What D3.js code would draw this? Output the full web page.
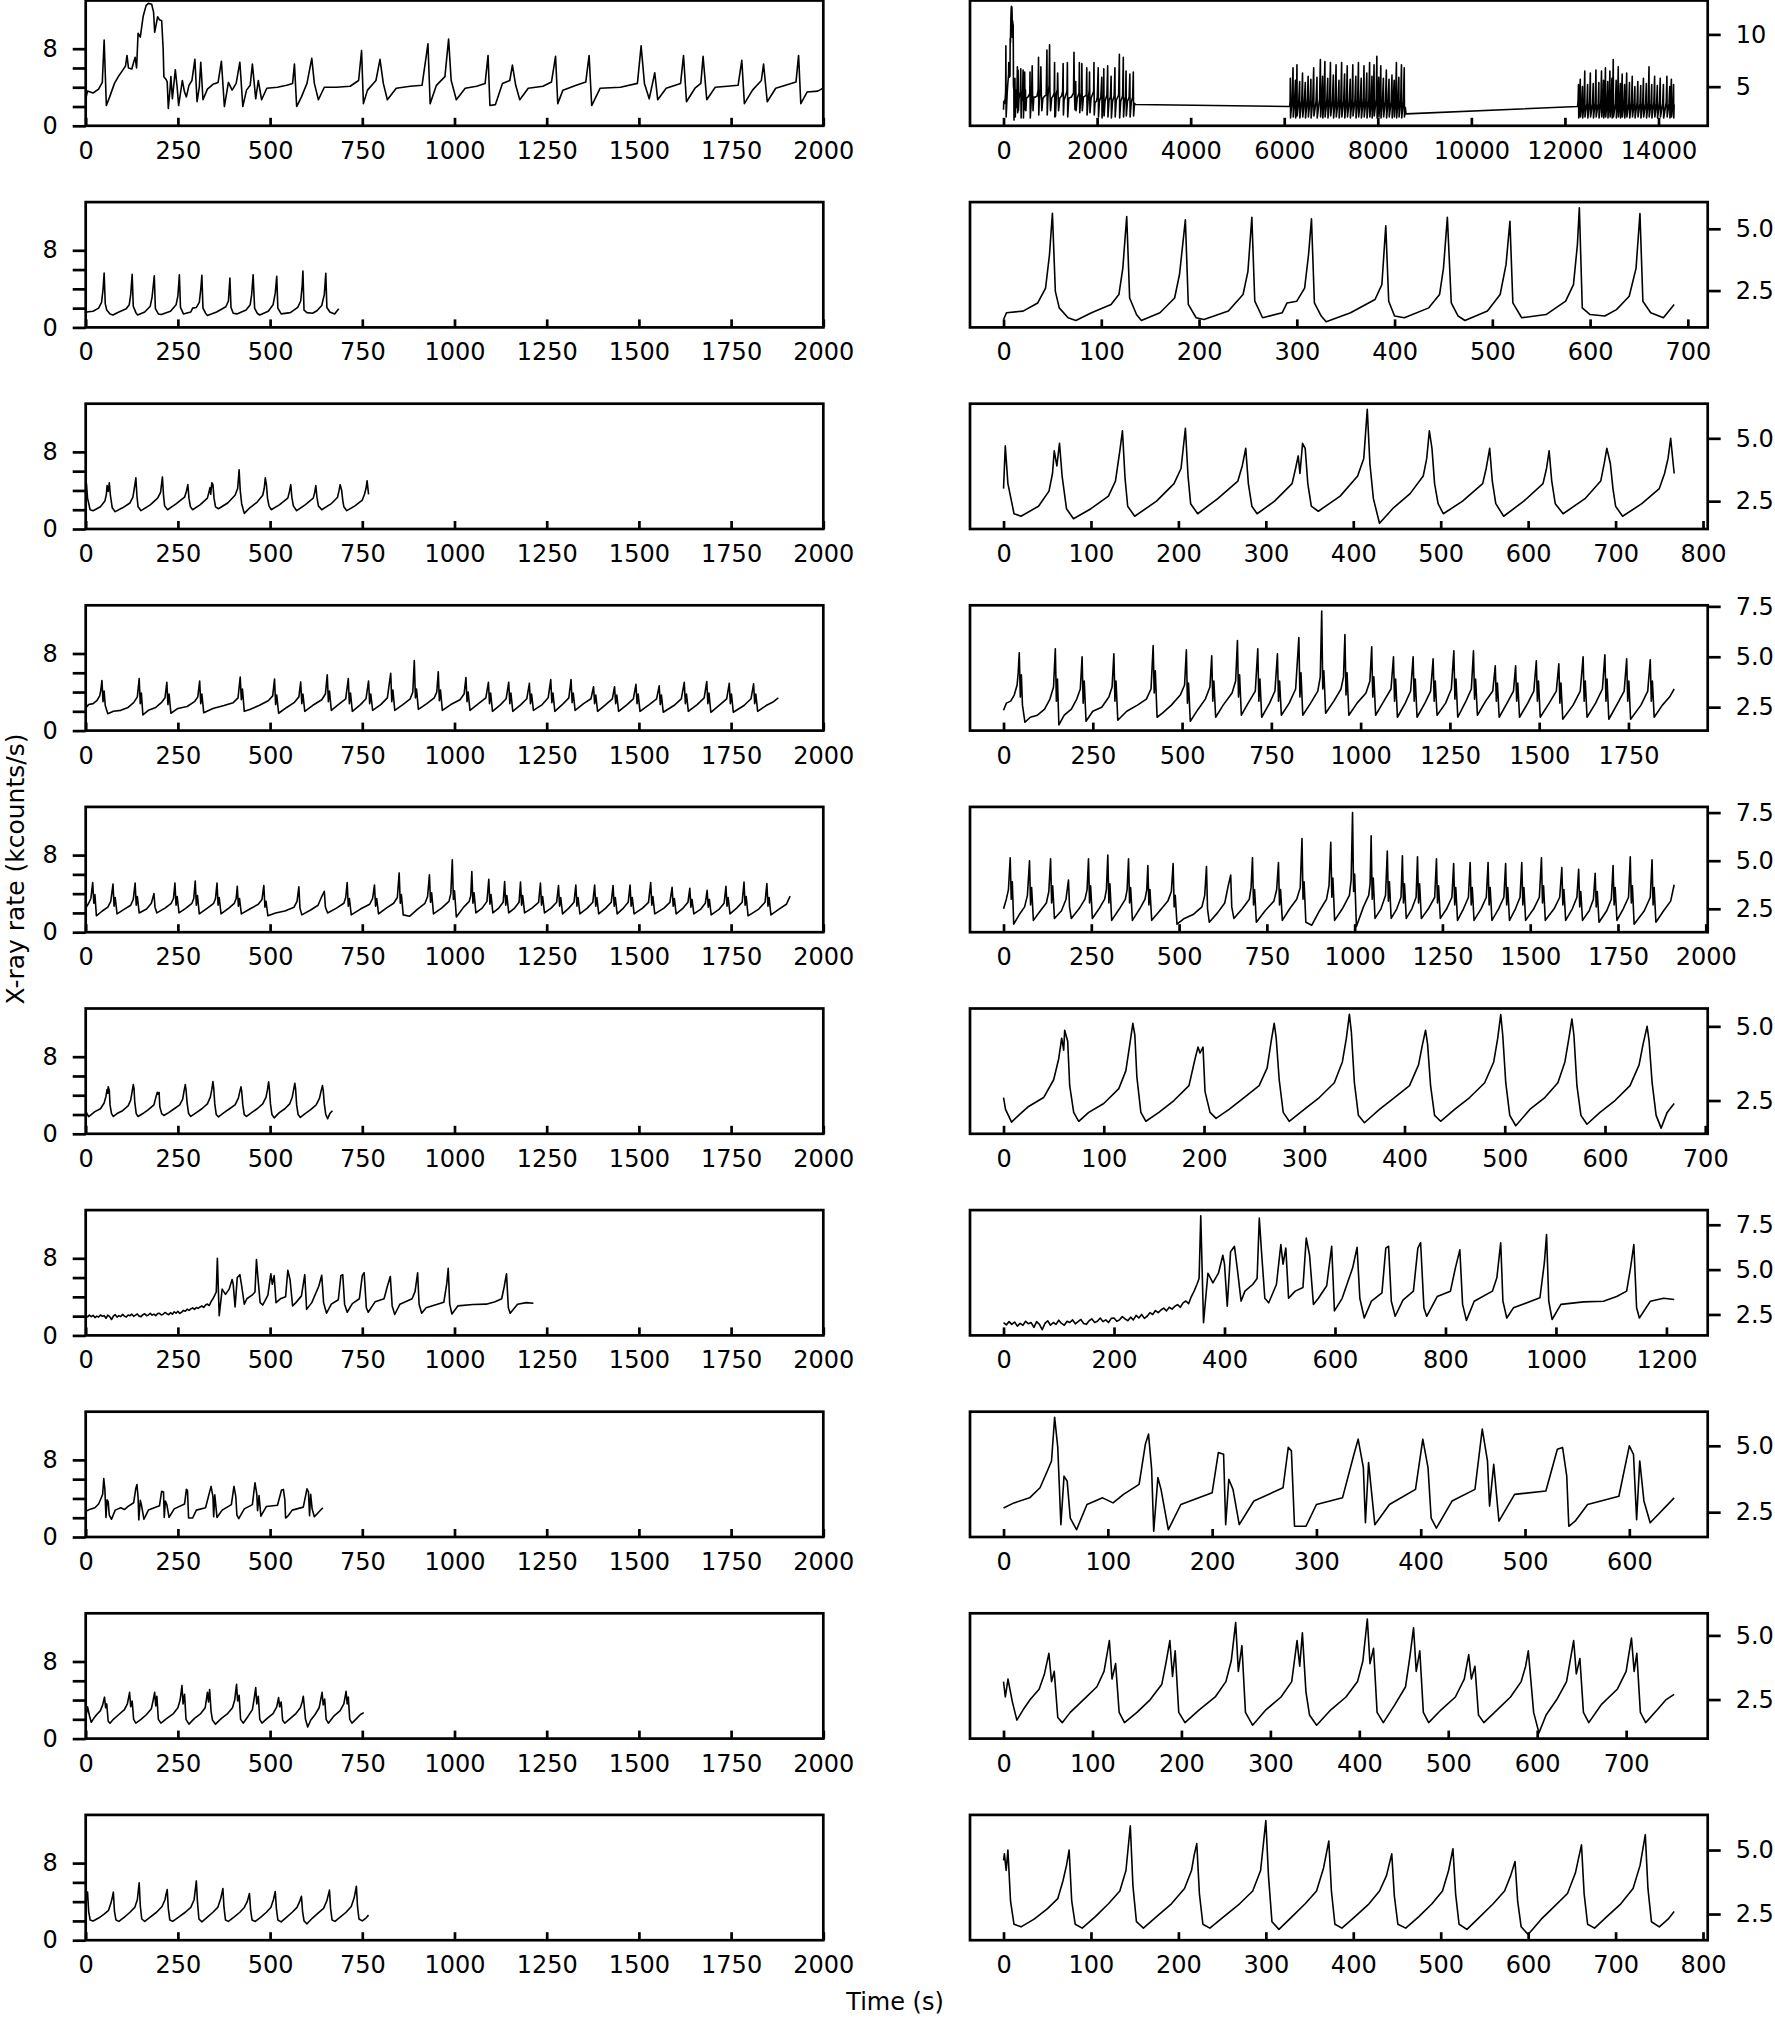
<!DOCTYPE html>
<html><head><meta charset="utf-8">
<script src="https://cdn.jsdelivr.net/npm/d3@7"></script>
<style>html,body{margin:0;padding:0;background:#fff;}</style>
</head><body>
<script>
// ---------------- DATA (time s, rate kcounts/s) ----------------
const r1 = [[0,2.8],[5,3.6],[20,3.4],[35,3.8],[45,4.5],[50,8.9],[56,2.1],[65,3.0],[78,4.4],[90,5.2],[101,5.8],[108,6.2],[112,7.3],[116,6.0],[125,5.9],[130,6.6],[134,7.1],[138,6.0],[142,9.6],[148,9.2],[156,11.4],[164,12.5],[170,12.7],[179,12.6],[184,11.8],[187,9.7],[195,11.3],[200,11.0],[206,10.9],[210,8.0],[212,5.1],[218,4.8],[221,4.55],[224,1.8],[228,3.5],[231,5.1],[235,2.8],[243,5.8],[248,4.0],[252,2.1],[262,4.7],[268,3.5],[273,3.0],[280,4.2],[288,4.7],[296,6.9],[302,2.5],[308,4.0],[312,6.6],[318,2.7],[330,3.8],[345,4.3],[359,4.5],[368,6.7],[376,2.0],[387,4.5],[397,3.7],[408,4.4],[418,6.6],[426,2.0],[436,3.7],[446,4.2],[452,6.4],[461,2.8],[468,4.7],[477,2.7],[491,3.9],[520,4.0],[545,4.2],[561,4.4],[566,6.4],[572,2.0],[585,3.0],[600,4.4],[613,7.0],[620,4.4],[631,2.7],[647,4.0],[680,4.0],[717,4.1],[740,4.7],[748,7.8],[753,2.3],[764,3.7],[787,4.7],[798,6.9],[807,4.4],[818,2.7],[842,3.9],[880,4.1],[912,4.2],[928,8.5],[934,2.3],[951,4.2],[974,5.1],[984,9.0],[991,4.7],[1005,2.7],[1029,3.9],[1060,4.1],[1083,4.4],[1091,7.3],[1096,2.1],[1111,2.2],[1130,4.4],[1150,4.7],[1157,6.3],[1166,4.2],[1177,2.7],[1200,3.9],[1240,4.1],[1263,4.55],[1274,7.2],[1280,2.3],[1294,3.7],[1330,4.2],[1356,4.55],[1365,7.3],[1372,2.1],[1395,3.9],[1450,4.0],[1496,4.4],[1506,8.3],[1515,4.4],[1528,2.8],[1543,5.5],[1551,2.7],[1574,3.9],[1613,4.4],[1621,7.3],[1629,2.5],[1652,3.9],[1668,4.4],[1674,7.2],[1684,2.7],[1707,4.0],[1740,4.1],[1769,4.2],[1779,6.8],[1786,2.3],[1808,3.7],[1832,4.7],[1838,6.4],[1848,2.5],[1871,3.9],[1926,4.55],[1933,7.3],[1939,2.3],[1956,3.5],[1985,3.6],
[2004,4.0],[2024,6.8],[2030,2.1],[2050,3.6],[2080,4.0],[2100,5.9],[2106,2.0],[2125,3.5],[2138,4.1],[2143,6.7],[2149,2.2],[2170,3.6],[2210,4.2],[2226,7.0],[2232,2.1],[2255,3.7],[2285,4.0],[2300,6.0],[2306,2.0],[2330,3.6],[2365,4.1],[2381,6.8],[2387,2.1],[2410,3.7],[2460,4.2],[2476,8.1],[2482,2.0],[2505,3.6],[2545,4.1],[2560,7.8],[2566,2.1],[2590,3.8],[2610,4.0],[2619,6.5],[2625,2.2],[2650,3.6],[2685,4.0],[2700,6.2],[2706,2.1],[2730,3.5],[2760,4.0],[2774,6.4],[2780,2.2],[2800,3.4],[2820,3.3],
[6116,3.1],[6125,3.6],[6130,5.8],[6135,2.0],[6165,3.6],[6188,6.8],[6193,2.1],[6220,3.5],[6240,5.6],[6245,2.0],[6262,3.7],[6272,7.1],[6277,2.2],[6310,3.6],[6330,5.5],[6335,2.0],[6375,3.7],[6391,6.3],[6396,2.1],[6430,3.6],[6450,5.4],[6455,2.0],[6495,3.8],[6511,6.0],[6516,2.1],[6550,3.6],[6570,5.7],[6575,2.0],[6610,3.7],[6630,6.8],[6635,2.2],[6680,3.6],[6700,5.9],[6705,2.0],[6755,3.8],[6773,7.6],[6778,2.1],[6800,3.6],[6820,6.0],[6825,2.0],[6850,3.7],[6869,7.4],[6874,2.1],[6910,3.6],[6930,5.8],[6935,2.0],[6970,3.8],[6988,7.3],[6993,2.2],[7030,3.6],[7050,6.1],[7055,2.0],[7090,3.7],[7108,7.1],[7113,2.1],[7150,3.6],[7170,5.6],[7175,2.0],[7210,3.8],[7227,7.3],[7232,2.1],[7270,3.6],[7290,6.2],[7295,2.0],[7330,3.7],[7347,7.0],[7352,2.1],[7390,3.6],[7410,5.7],[7415,2.0],[7450,3.8],[7466,7.1],[7471,2.2],[7510,3.6],[7530,6.0],[7535,2.0],[7570,3.7],[7586,7.3],[7591,2.1],[7625,3.6],[7645,5.8],[7650,2.0],[7690,3.8],[7705,7.0],[7710,2.1],[7745,3.6],[7765,6.3],[7770,2.0],[7808,3.7],[7825,7.3],[7830,2.1],[7858,3.6],[7875,6.0],[7880,2.0],[7905,3.7],[7920,7.1],[7925,2.2],[7965,3.8],[7980,7.9],[7985,2.0],[8005,3.6],[8020,5.9],[8025,2.1],[8048,3.7],[8064,7.0],[8069,2.0],[8100,3.6],[8120,5.8],[8125,2.1],[8165,3.7],[8183,6.6],[8188,2.0],[8220,3.6],[8240,5.7],[8245,2.1],[8285,3.6],[8303,6.1],[8308,2.0],[8330,3.7],[8350,5.6],[8355,2.1],[8380,3.7],[8398,7.3],[8403,2.0],[8430,3.6],[8450,5.9],[8455,2.1],[8490,3.7],[8506,7.1],[8511,2.0],[8548,3.6],[8565,6.8],[8570,2.1],[8590,3.0],[8601,2.4],
[12268,3.1],[12280,3.5],[12290,5.2],[12295,2.0],[12315,3.4],[12328,5.7],[12333,2.1],[12360,3.4],[12375,5.0],[12380,2.0],[12410,3.5],[12424,6.5],[12429,2.1],[12470,3.4],[12485,5.2],[12490,2.0],[12528,3.5],[12543,6.3],[12548,2.1],[12590,3.4],[12605,5.3],[12610,2.0],[12648,3.5],[12663,6.6],[12668,2.1],[12710,3.4],[12725,5.4],[12730,2.0],[12767,3.5],[12782,6.5],[12787,2.1],[12810,3.4],[12825,5.6],[12830,2.0],[12851,3.5],[12866,6.8],[12871,2.1],[12900,3.4],[12915,5.5],[12920,2.0],[12946,3.5],[12961,6.5],[12966,2.1],[12990,3.4],[13005,5.8],[13010,2.0],[13018,3.6],[13033,7.6],[13038,2.1],[13080,3.4],[13095,5.6],[13100,2.0],[13125,3.5],[13140,6.9],[13145,2.1],[13170,3.4],[13185,5.3],[13190,2.0],[13209,3.5],[13224,6.2],[13229,2.1],[13260,3.4],[13275,5.2],[13280,2.0],[13305,3.5],[13320,6.3],[13325,2.1],[13365,3.4],[13380,5.4],[13385,2.0],[13424,3.5],[13439,6.0],[13444,2.1],[13480,3.4],[13495,5.0],[13500,2.0],[13543,3.5],[13558,5.5],[13563,2.1],[13605,3.4],[13620,5.1],[13625,2.0],[13663,3.5],[13678,5.8],[13683,2.1],[13725,3.4],[13740,5.3],[13745,2.0],[13782,3.5],[13797,6.9],[13802,2.1],[13840,3.4],[13855,5.2],[13860,2.0],[13902,3.5],[13917,6.0],[13922,2.1],[13960,3.4],[13975,5.1],[13980,2.0],[14022,3.5],[14037,5.8],[14042,2.1],[14090,3.4],[14105,5.2],[14110,2.0],[14165,3.5],[14180,6.0],[14185,2.1],[14225,3.4],[14240,5.0],[14245,2.0],[14260,3.5],[14275,5.7],[14280,2.1],[14310,3.4],[14322,5.2],[14327,2.0],[14335,3.3]];

const r2 = [[0,1.33],[3,1.6],[20,1.67],[35,2.0],[43,2.6],[47,3.95],[50,5.63],[53,2.47],[57,1.8],[66,1.4],[74,1.29],[90,1.6],[110,1.94],[118,2.34],[122,3.4],[126,5.5],[129,2.2],[136,1.53],[141,1.29],[160,1.6],[175,2.2],[180,3.15],[186,5.36],[189,1.94],[197,1.4],[205,1.33],[230,1.67],[245,2.34],[250,3.28],[254,5.47],[257,2.07],[265,1.4],[285,1.6],[290,2.0],[300,2.07],[308,2.6],[312,3.95],[315,5.4],[318,2.0],[325,1.47],[330,1.24],[355,1.6],[380,2.14],[387,2.74],[391,5.12],[394,2.07],[400,1.47],[410,1.4],[435,1.8],[446,2.34],[450,3.4],[454,5.47],[458,2.0],[465,1.47],[472,1.29],[495,1.67],[508,2.34],[514,3.55],[518,5.3],[521,2.0],[530,1.4],[555,1.53],[575,2.07],[583,2.74],[587,4.35],[589,5.85],[592,1.8],[600,1.53],[615,1.47],[627,1.73],[640,2.27],[647,3.4],[651,5.62],[654,2.07],[662,1.6],[675,1.4],[686,1.94]];

const r3 = [[0,3.0],[2,4.7],[5,3.2],[12,2.0],[20,1.9],[40,2.3],[52,2.9],[56,3.6],[58,4.5],[61,3.9],[64,4.8],[67,3.5],[72,2.2],[80,1.8],[100,2.2],[120,2.7],[128,3.3],[133,4.5],[136,5.3],[139,3.4],[142,2.3],[150,1.9],[175,2.5],[195,3.2],[203,3.8],[208,5.4],[211,3.5],[214,2.4],[222,2.0],[245,2.6],[268,3.3],[273,3.9],[277,4.6],[280,3.2],[284,2.3],[290,2.0],[310,2.5],[330,3.2],[334,3.8],[337,4.3],[339,3.6],[342,4.8],[345,4.6],[348,3.2],[352,2.3],[360,2.1],[385,2.7],[405,3.5],[412,4.2],[416,6.15],[419,4.0],[423,2.6],[430,1.62],[445,2.2],[465,2.8],[480,3.5],[484,4.2],[487,5.3],[490,4.6],[493,3.2],[497,2.4],[503,2.0],[525,2.5],[548,3.2],[552,3.8],[556,4.6],[559,3.3],[563,2.4],[572,1.9],[595,2.5],[617,3.2],[621,3.8],[624,4.5],[627,3.3],[631,2.4],[640,2.0],[665,2.6],[683,3.3],[687,4.0],[690,4.6],[694,4.0],[697,3.0],[700,2.3],[708,1.9],[730,2.4],[750,3.0],[756,3.6],[760,4.2],[763,5.0],[767,3.6]];

const r4 = [[0,2.35],[8,2.7],[20,2.8],[30,3.1],[38,3.6],[41,4.2],[44,5.2],[47,3.0],[50,4.1],[53,2.6],[60,1.75],[75,2.0],[95,2.1],[115,2.4],[130,2.9],[140,3.5],[145,5.4],[148,2.8],[151,3.9],[155,1.62],[170,2.1],[190,2.4],[205,2.9],[215,3.4],[220,5.0],[223,2.7],[226,3.8],[231,1.8],[250,2.3],[275,2.5],[295,3.0],[304,3.5],[309,5.15],[312,2.8],[315,3.8],[320,1.85],[345,2.3],[375,2.6],[400,2.9],[413,3.4],[419,5.55],[422,3.2],[425,4.3],[430,2.0],[445,2.2],[470,2.6],[495,3.1],[507,3.6],[512,5.35],[515,2.7],[518,3.7],[523,1.8],[545,2.4],[565,2.9],[578,3.5],[583,5.05],[586,2.8],[589,3.8],[594,2.0],[615,2.6],[640,3.2],[650,3.8],[655,5.8],[658,3.0],[661,4.1],[666,2.1],[685,2.7],[705,3.3],[712,5.4],[715,2.8],[718,3.9],[723,2.0],[745,2.7],[760,3.3],[767,5.15],[770,2.8],[773,3.8],[778,2.1],[800,2.7],[818,3.4],[827,5.95],[830,3.0],[833,4.2],[838,2.1],[860,2.7],[880,3.3],[887,4.0],[891,7.27],[894,3.4],[897,4.3],[902,2.2],[925,2.8],[945,3.4],[952,4.0],[956,6.1],[959,3.1],[962,4.2],[967,2.1],[990,2.7],[1015,3.2],[1026,3.8],[1031,5.5],[1034,3.0],[1037,4.0],[1042,2.1],[1065,2.8],[1085,3.4],[1092,5.0],[1095,2.8],[1098,3.9],[1103,2.0],[1125,2.7],[1140,3.3],[1147,5.0],[1150,2.8],[1153,3.9],[1158,2.0],[1180,2.7],[1196,3.3],[1203,4.9],[1206,2.8],[1209,3.8],[1214,2.1],[1238,2.7],[1254,3.4],[1261,5.3],[1264,2.9],[1267,3.9],[1272,2.0],[1295,2.8],[1310,3.4],[1316,5.3],[1319,2.9],[1322,3.9],[1327,2.1],[1350,2.8],[1370,3.3],[1377,4.55],[1380,2.8],[1383,3.7],[1388,2.0],[1410,2.7],[1428,3.3],[1434,4.55],[1437,2.8],[1440,3.7],[1445,2.0],[1468,2.7],[1485,3.3],[1492,4.8],[1495,2.8],[1498,3.8],[1503,2.0],[1528,2.7],[1548,3.3],[1555,4.65],[1558,2.7],[1561,3.7],[1566,1.9],[1595,2.6],[1615,3.3],[1623,5.0],[1626,2.8],[1629,3.8],[1634,2.0],[1658,2.7],[1677,3.4],[1684,5.1],[1687,2.8],[1690,3.9],[1695,1.9],[1720,2.7],[1738,3.3],[1745,4.9],[1748,2.8],[1751,3.8],[1756,1.9],[1785,2.6],[1804,3.3],[1811,4.85],[1814,2.8],[1817,3.8],[1822,2.0],[1845,2.6],[1865,3.0],[1878,3.4]];

const r5 = [[0,2.5],[8,3.0],[14,3.5],[19,5.15],[22,3.0],[25,3.9],[29,1.7],[45,2.2],[60,2.6],[68,3.2],[74,5.0],[77,2.7],[80,3.6],[85,1.9],[105,2.4],[122,2.8],[129,3.4],[134,5.1],[137,2.8],[140,3.7],[145,2.0],[165,2.4],[178,3.0],[185,4.0],[188,2.6],[193,2.0],[215,2.5],[232,3.0],[238,3.5],[242,5.1],[245,2.8],[248,3.7],[253,2.0],[272,2.5],[288,3.0],[293,3.5],[297,5.3],[300,2.8],[303,3.8],[308,1.9],[330,2.5],[347,3.0],[352,3.5],[356,5.1],[359,2.8],[362,3.6],[367,1.9],[388,2.5],[403,3.0],[408,3.5],[411,4.75],[414,2.7],[417,3.5],[422,1.9],[445,2.4],[468,2.9],[478,3.4],[483,4.85],[486,2.6],[489,3.2],[494,1.7],[515,2.0],[540,2.2],[565,2.6],[573,3.2],[578,4.7],[581,2.5],[586,1.8],[610,2.3],[630,2.8],[640,3.7],[647,4.25],[650,2.6],[656,2.0],[680,2.5],[700,3.0],[705,3.6],[709,5.15],[712,2.7],[715,3.5],[720,1.8],[745,2.4],[770,2.9],[778,3.5],[783,4.9],[786,2.7],[789,3.5],[794,1.9],[815,2.5],[835,3.0],[845,3.6],[850,6.15],[853,3.0],[856,3.9],[861,1.8],[878,1.65],[900,2.4],[920,3.0],[927,3.7],[932,5.95],[935,3.1],[938,4.1],[943,1.9],[965,2.5],[985,3.2],[990,4.0],[994,7.5],[997,3.4],[1000,4.3],[1005,1.58],[1025,2.6],[1040,3.2],[1044,3.8],[1047,6.3],[1050,3.0],[1053,4.1],[1058,2.0],[1075,2.5],[1088,3.2],[1093,5.5],[1096,2.9],[1099,3.9],[1104,2.0],[1120,2.5],[1132,3.1],[1136,5.25],[1139,2.8],[1142,3.8],[1147,2.0],[1163,2.5],[1175,3.1],[1179,5.2],[1182,2.8],[1185,3.8],[1190,2.0],[1210,2.5],[1228,3.1],[1233,5.1],[1236,2.8],[1239,3.7],[1244,2.0],[1262,2.5],[1277,3.1],[1282,4.85],[1285,2.7],[1288,3.6],[1293,1.9],[1310,2.5],[1324,3.1],[1329,4.9],[1332,2.7],[1335,3.6],[1340,1.9],[1360,2.5],[1375,3.1],[1380,4.9],[1383,2.7],[1386,3.6],[1391,1.9],[1410,2.5],[1425,3.1],[1430,4.85],[1433,2.7],[1436,3.6],[1441,1.9],[1458,2.5],[1471,3.1],[1476,4.9],[1479,2.7],[1482,3.6],[1487,1.9],[1510,2.5],[1526,3.1],[1532,5.15],[1535,2.8],[1538,3.7],[1543,1.9],[1568,2.5],[1584,3.1],[1590,4.65],[1593,2.7],[1596,3.5],[1601,1.9],[1620,2.5],[1633,3.1],[1638,4.55],[1641,2.6],[1644,3.4],[1649,1.9],[1668,2.4],[1680,3.0],[1685,4.35],[1688,2.6],[1691,3.4],[1696,1.8],[1718,2.4],[1731,3.0],[1736,4.75],[1739,2.7],[1742,3.6],[1747,1.9],[1765,2.5],[1780,3.1],[1785,5.2],[1788,2.8],[1791,3.7],[1796,1.7],[1825,2.4],[1842,3.1],[1847,5.05],[1850,2.7],[1853,3.6],[1858,1.8],[1880,2.4],[1900,2.9],[1910,3.75]];

const r6 = [[0,2.6],[2,2.2],[8,1.77],[15,2.0],[25,2.3],[40,2.6],[50,3.2],[55,3.9],[58,4.6],[60,4.2],[61,4.87],[64,4.5],[66,3.0],[70,2.1],[75,1.8],[85,2.1],[100,2.4],[115,2.9],[122,3.5],[126,4.4],[129,5.1],[131,4.7],[133,3.3],[137,2.1],[142,1.8],[155,2.1],[170,2.5],[185,3.0],[191,3.9],[194,4.3],[196,4.1],[199,4.3],[201,2.8],[206,2.1],[212,1.9],[225,2.2],[240,2.6],[255,3.0],[263,3.6],[267,4.5],[270,5.1],[272,4.6],[275,3.2],[279,2.1],[285,1.8],[300,2.2],[315,2.6],[330,3.1],[338,3.8],[342,4.6],[345,5.41],[347,4.8],[350,3.1],[354,2.0],[360,1.75],[375,2.2],[390,2.6],[405,3.0],[414,3.7],[418,4.4],[421,4.87],[423,4.4],[426,3.0],[430,2.0],[436,1.8],[450,2.2],[465,2.6],[480,3.1],[489,3.8],[493,4.6],[496,5.4],[498,4.7],[501,3.1],[505,2.0],[511,1.65],[525,2.2],[540,2.6],[553,3.1],[560,3.8],[564,4.6],[567,5.25],[569,4.7],[572,3.0],[576,2.0],[582,1.7],[595,2.1],[610,2.5],[625,3.0],[634,3.7],[638,4.4],[642,5.0],[644,4.5],[647,3.1],[651,2.0],[656,1.57],[662,2.1],[669,2.4]];

const r7 = [[0,2.04],[5,1.92],[10,2.1],[15,1.95],[20,2.08],[25,1.85],[30,2.0],[35,1.9],[40,2.12],[45,1.98],[50,2.05],[55,1.78],[60,2.1],[65,1.95],[70,1.65],[75,2.0],[80,2.15],[85,1.9],[90,2.05],[95,1.95],[100,2.18],[105,2.0],[110,1.9],[115,2.12],[120,2.05],[125,2.2],[130,1.98],[135,2.1],[140,2.22],[145,2.0],[150,1.95],[155,2.15],[160,2.25],[165,2.05],[170,2.12],[175,2.3],[180,2.1],[185,2.2],[190,2.05],[195,2.28],[200,2.3],[205,2.12],[210,2.2],[215,2.38],[220,2.25],[225,2.15],[230,2.35],[235,2.2],[240,2.45],[245,2.3],[250,2.5],[255,2.28],[260,2.4],[265,2.6],[270,2.5],[275,2.72],[280,2.6],[285,2.75],[290,2.85],[295,2.7],[300,2.9],[305,2.8],[310,2.95],[315,3.05],[320,2.9],[325,3.15],[330,3.25],[335,3.1],[340,3.5],[345,3.8],[350,4.17],[354,4.5],[357,8.0],[362,2.04],[370,4.8],[379,4.26],[389,4.8],[397,5.8],[400,5.3],[405,2.96],[411,6.0],[418,6.3],[423,5.1],[430,3.24],[437,3.8],[451,4.17],[459,4.5],[463,7.87],[467,6.0],[473,3.4],[480,3.15],[494,4.17],[502,6.4],[506,5.3],[511,6.2],[516,3.4],[528,3.8],[542,4.0],[548,6.76],[554,5.8],[561,3.06],[570,3.4],[585,4.1],[594,6.3],[599,2.7],[613,3.4],[632,5.1],[640,6.24],[645,3.4],[653,2.3],[666,3.24],[685,3.7],[692,6.2],[697,6.3],[702,3.24],[709,2.4],[723,3.3],[742,3.8],[750,6.2],[755,6.5],[761,2.87],[766,2.4],[785,3.5],[809,3.8],[818,5.1],[826,6.1],[831,3.06],[838,2.17],[852,3.24],[885,3.8],[893,4.54],[900,6.5],[904,3.24],[911,2.3],[923,2.87],[971,3.43],[979,5.37],[983,6.95],[987,3.24],[993,2.22],[1009,3.06],[1050,3.2],[1086,3.24],[1110,3.5],[1128,3.8],[1135,5.1],[1141,6.4],[1146,2.87],[1151,2.3],[1171,3.24],[1195,3.4],[1214,3.33]];

const r8 = [[0,2.66],[10,2.85],[25,3.04],[35,3.42],[42,4.05],[46,4.43],[49,6.07],[52,4.94],[55,2.03],[58,3.86],[61,3.67],[64,2.28],[70,1.84],[80,2.79],[95,3.04],[105,2.85],[115,3.17],[130,3.55],[136,5.06],[139,5.44],[142,4.12],[144,1.78],[148,3.8],[151,3.36],[158,1.84],[170,2.79],[200,3.23],[206,4.75],[211,4.68],[213,2.03],[216,3.74],[220,3.36],[226,2.03],[240,2.92],[268,3.42],[273,4.94],[276,4.81],[279,1.97],[290,1.97],[300,2.79],[325,3.04],[336,4.68],[340,5.25],[345,4.18],[347,2.1],[350,4.37],[356,2.03],[370,2.79],[395,3.36],[402,5.25],[407,4.18],[410,2.28],[415,1.9],[430,2.92],[452,3.36],[459,5.63],[464,4.43],[466,2.73],[470,4.3],[475,2.16],[490,3.17],[520,3.3],[531,4.87],[536,4.94],[540,3.86],[542,1.97],[548,2.16],[560,2.79],[590,3.1],[600,5.0],[604,4.68],[607,2.22],[610,4.43],[614,2.92],[620,2.1],[643,3.04]];

const r9 = [[0,3.2],[2,2.6],[5,3.3],[10,2.4],[15,1.7],[22,2.1],[30,2.5],[40,2.9],[46,3.5],[51,4.3],[54,3.2],[57,3.6],[61,1.8],[66,1.6],[75,2.0],[90,2.5],[105,3.0],[113,3.6],[119,4.8],[122,3.3],[126,3.9],[130,2.0],[136,1.6],[150,2.0],[165,2.5],[178,3.1],[183,4.0],[187,4.8],[190,3.4],[193,4.4],[197,2.0],[204,1.6],[220,2.1],[238,2.6],[250,3.2],[256,4.0],[261,5.5],[264,3.6],[268,4.6],[272,2.0],[280,1.5],[295,2.1],[312,2.6],[324,3.2],[330,4.8],[333,3.8],[336,5.1],[340,2.8],[344,1.9],[352,1.5],[368,2.1],[385,2.6],[398,3.2],[404,4.0],[409,5.64],[412,3.9],[416,4.5],[420,2.0],[427,1.6],[440,2.3],[452,3.0],[457,4.2],[461,5.3],[464,3.6],[468,4.4],[472,2.0],[478,1.6],[492,2.1],[508,2.6],[518,3.3],[523,4.25],[526,3.3],[530,3.8],[534,1.9],[540,1.6],[555,2.1],[570,2.6],[582,3.2],[587,3.8],[590,4.4],[593,3.2],[596,2.0],[602,1.2],[610,1.9],[622,2.5],[633,3.2],[637,4.0],[641,4.8],[644,3.5],[648,4.1],[652,2.0],[658,1.6],[672,2.3],[690,2.9],[700,3.6],[706,4.9],[709,3.6],[712,4.3],[716,2.0],[722,1.6],[735,2.1],[745,2.5],[754,2.7]];

const r10 = [[0,4.6],[1,4.85],[3,4.2],[5,5.0],[8,3.0],[12,2.1],[20,2.0],[35,2.3],[50,2.7],[62,3.1],[68,3.8],[72,4.4],[75,5.0],[78,3.0],[82,2.1],[90,1.95],[105,2.4],[120,2.9],[133,3.4],[140,4.2],[145,5.95],[148,3.6],[152,2.2],[160,1.95],[175,2.4],[192,2.9],[207,3.5],[215,4.2],[218,4.8],[221,5.25],[224,3.3],[228,2.1],[236,1.95],[252,2.4],[270,2.9],[285,3.4],[294,4.2],[300,6.15],[303,4.0],[307,2.2],[315,1.9],[330,2.4],[345,2.9],[358,3.4],[366,4.3],[372,5.35],[375,3.4],[379,2.1],[387,1.95],[402,2.4],[418,2.9],[430,3.4],[438,4.0],[444,4.85],[447,3.2],[451,2.1],[460,1.95],[475,2.4],[490,2.9],[502,3.4],[509,4.2],[514,5.05],[517,3.3],[521,2.1],[530,1.9],[545,2.4],[560,2.9],[573,3.4],[580,4.0],[585,4.55],[588,3.0],[592,2.0],[600,1.7],[615,2.3],[630,2.8],[645,3.3],[654,4.1],[661,5.2],[664,3.3],[668,2.1],[676,1.95],[690,2.4],[706,2.9],[720,3.5],[728,4.4],[734,5.6],[737,3.5],[741,2.2],[750,2.0],[760,2.3],[767,2.6]];

const series = [r1, r2, r3, r4, r5, r6, r7, r8, r9, r10];

// tick values / labels
const leftXTicks = [0, 250, 500, 750, 1000, 1250, 1500, 1750, 2000];
const leftXDomain = [0, 2000];
const leftYDomain = [0, 13];
const leftYTicks = [0, 2, 4, 6, 8];
const leftYLabeled = [0, 8];
const rightXTicks = [
  [0, 2000, 4000, 6000, 8000, 10000, 12000, 14000],
  [0, 100, 200, 300, 400, 500, 600, 700],
  [0, 100, 200, 300, 400, 500, 600, 700, 800],
  [0, 250, 500, 750, 1000, 1250, 1500, 1750],
  [0, 250, 500, 750, 1000, 1250, 1500, 1750, 2000],
  [0, 100, 200, 300, 400, 500, 600, 700],
  [0, 200, 400, 600, 800, 1000, 1200],
  [0, 100, 200, 300, 400, 500, 600],
  [0, 100, 200, 300, 400, 500, 600, 700],
  [0, 100, 200, 300, 400, 500, 600, 700, 800]
];
const rightYTicks = [
  [5, 10], [2.5, 5.0], [2.5, 5.0], [2.5, 5.0, 7.5], [2.5, 5.0, 7.5],
  [2.5, 5.0], [2.5, 5.0, 7.5], [2.5, 5.0], [2.5, 5.0], [2.5, 5.0]
];
const rightYFormats = ["d", ".1f", ".1f", ".1f", ".1f", ".1f", ".1f", ".1f", ".1f", ".1f"];
const yLabelText = "X-ray rate (kcounts/s)";
const xLabelText = "Time (s)";

// ---------------- LAYOUT ----------------
const W = 1775, H = 2019;
const FONT = "DejaVu Sans", FS = "24px";
const ROW_TOP0 = 0.5, ROW_BOT0 = 125.8, ROW_STEP = 201.6;
const LP = {x0: 85.7, x1: 823.3}, RP = {x0: 970, x1: 1707.7};
const SPINE = 2.7, LINEW = 1.6;

const svg = d3.select("body").append("svg").attr("width", W).attr("height", H)
  .attr("viewBox", `0 0 ${W} ${H}`);
svg.append("rect").attr("width", W).attr("height", H).attr("fill", "#fff");
const defs = svg.append("defs");

function pad(ext) { const s = ext[1] - ext[0]; return [ext[0] - 0.05 * s, ext[1] + 0.05 * s]; }

function styleAxis(g) {
  g.attr("font-family", null).attr("font-size", null);
  g.select(".domain").remove();
  g.selectAll(".tick line").attr("stroke", "#000").attr("stroke-width", SPINE);
  g.selectAll(".tick text").attr("fill", "#000")
    .style("font-family", FONT).style("font-size", FS);
}

function drawLine(i, P, x, y, data) {
  const top = ROW_TOP0 + i * ROW_STEP, bot = ROW_BOT0 + i * ROW_STEP;
  const id = `clip${P === LP ? "L" : "R"}${i}`;
  defs.append("clipPath").attr("id", id).append("rect")
    .attr("x", P.x0).attr("y", top).attr("width", P.x1 - P.x0).attr("height", bot - top);
  const line = d3.line().x(d => x(d[0])).y(d => y(d[1]));
  svg.append("path").datum(data).attr("clip-path", `url(#${id})`)
    .attr("d", line).attr("fill", "none").attr("stroke", "#000")
    .attr("stroke-width", LINEW).attr("stroke-linejoin", "round");
}

series.forEach((data, i) => {
  const top = ROW_TOP0 + i * ROW_STEP, bot = ROW_BOT0 + i * ROW_STEP;

  // ---- left panel (fixed limits) ----
  const xl = d3.scaleLinear().domain(leftXDomain).range([LP.x0, LP.x1]);
  const yl = d3.scaleLinear().domain(leftYDomain).range([bot, top]);
  drawLine(i, LP, xl, yl, data);
  svg.append("g").attr("transform", `translate(0,${bot})`)
    .call(d3.axisBottom(xl).tickValues(leftXTicks).tickSizeInner(-8).tickSizeOuter(0).tickPadding(16).tickFormat(d3.format("d")))
    .call(styleAxis);
  svg.append("g").attr("transform", `translate(${LP.x0},0)`)
    .call(d3.axisLeft(yl).tickValues(leftYTicks).tickSizeInner(13).tickSizeOuter(0).tickPadding(15)
      .tickFormat(d => leftYLabeled.includes(d) ? String(d) : ""))
    .call(styleAxis);
  svg.append("rect").attr("x", LP.x0).attr("y", top).attr("width", LP.x1 - LP.x0).attr("height", bot - top)
    .attr("fill", "none").attr("stroke", "#000").attr("stroke-width", SPINE);

  // ---- right panel (auto limits with 5% margins) ----
  const xr = d3.scaleLinear().domain(pad(d3.extent(data, d => d[0]))).range([RP.x0, RP.x1]);
  const yr = d3.scaleLinear().domain(pad(d3.extent(data, d => d[1]))).range([bot, top]);
  drawLine(i, RP, xr, yr, data);
  svg.append("g").attr("transform", `translate(0,${bot})`)
    .call(d3.axisBottom(xr).tickValues(rightXTicks[i]).tickSizeInner(-8).tickSizeOuter(0).tickPadding(16).tickFormat(d3.format("d")))
    .call(styleAxis);
  svg.append("g").attr("transform", `translate(${RP.x1},0)`)
    .call(d3.axisRight(yr).tickValues(rightYTicks[i]).tickSizeInner(13).tickSizeOuter(0).tickPadding(15)
      .tickFormat(d3.format(rightYFormats[i])))
    .call(styleAxis);
  svg.append("rect").attr("x", RP.x0).attr("y", top).attr("width", RP.x1 - RP.x0).attr("height", bot - top)
    .attr("fill", "none").attr("stroke", "#000").attr("stroke-width", SPINE);
});

// axis titles
svg.append("text").attr("transform", "translate(24,869) rotate(-90)")
  .attr("text-anchor", "middle").style("font-family", FONT).style("font-size", "25px")
  .attr("fill", "#000").text(yLabelText);
svg.append("text").attr("x", 895).attr("y", 2010)
  .attr("text-anchor", "middle").style("font-family", FONT).style("font-size", FS)
  .attr("fill", "#000").text(xLabelText);
</script>
</body></html>
